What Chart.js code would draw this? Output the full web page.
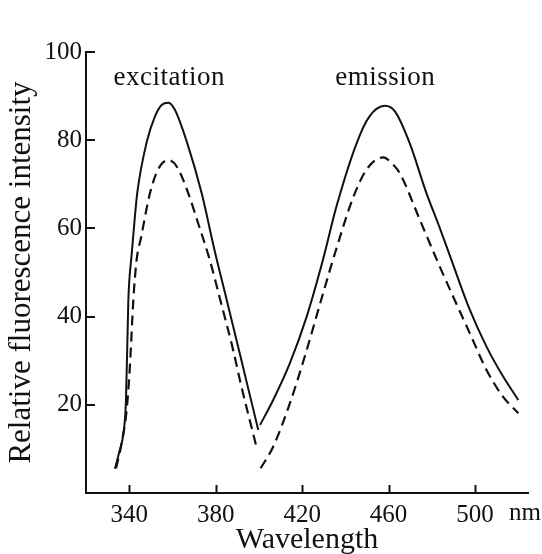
<!DOCTYPE html>
<html>
<head>
<meta charset="utf-8">
<title>Excitation and emission spectra</title>
<script src="https://cdn.jsdelivr.net/npm/chart.js@4.4.0/dist/chart.umd.min.js"></script>
<style>
  body { margin: 0; background: #fff; }
  #wrap { width: 542px; height: 554px; }
</style>
</head>
<body>
<div id="wrap"><canvas id="spectra" width="542" height="554"></canvas></div>
<script>
// Spectra (wavelength in nm, relative intensity)
const excSolidNm  = [333.4, 335.5, 337.3, 338.5, 339.6, 341.1, 342.5, 343.7, 348, 352, 355, 358.1, 361, 366.8, 373.5, 379.5, 385, 391.2, 399.7];
const excSolidVal = [5.5, 9.5, 13.5, 21, 43.8, 54, 62, 68, 79.4, 85.5, 88, 88.5, 87, 79.4, 68, 55, 44, 31.5, 14.3];

const excDashNm  = [333.9, 336.5, 338.8, 340.3, 341.9, 343.4, 345.5, 349.6, 353.5, 358.1, 362, 367.3, 372, 377.3, 382, 388.1, 391.2, 399.2];
const excDashVal = [5.6, 11.3, 18.8, 28.6, 43.8, 52.8, 58, 68, 73.5, 75.5, 74, 68, 61, 52.8, 44, 32.4, 25.6, 9.8];

const emSolidNm  = [400.5, 406.6, 414.3, 422.1, 429.7, 435.9, 445.2, 451, 458.3, 463, 469.8, 477.5, 483, 489.1, 497.6, 505.3, 513, 520];
const emSolidVal = [15.4, 21.1, 29.4, 40, 53, 65, 79.3, 85.3, 87.8, 86.5, 79.3, 68, 61, 52.8, 41.5, 33.2, 26.4, 21.1];

const emDashNm  = [400.8, 406.6, 414.3, 422.1, 429.7, 435.9, 443.6, 450, 457.5, 462, 465.2, 474.5, 483, 489.9, 497.6, 505.3, 513, 520];
const emDashVal = [5.6, 10.5, 20.3, 32.4, 45.3, 55.5, 67, 73.5, 76.1, 74.5, 72.5, 61.9, 52.1, 44.5, 36.2, 27.9, 21.8, 18.1];

const xTicks = [340, 380, 420, 460, 500];
const yTicks = [20, 40, 60, 80, 100];

const peakLabels = ['excitation', 'emission'];
const peakLabelNm = [358.5, 458.5];
const peakLabelVal = 92.5;

const INK = '#111';
const SERIF = '"Liberation Serif", "DejaVu Serif", serif';

function toPoints(xs, ys) {
    return xs.map((x, i) => ({ x: x, y: ys[i] }));
}

function curve(xs, ys, dashed) {
    return {
        data: toPoints(xs, ys),
        borderColor: INK,
        borderWidth: dashed ? 2.2 : 2,
        borderDash: dashed ? [10, 6] : [],
        pointRadius: 0,
        fill: false,
        cubicInterpolationMode: 'monotone'
    };
}

// ticks on this figure point inwards, and there are peak labels and the "nm" unit
const figureMarks = {
    id: 'figureMarks',
    afterDraw(chart) {
        const ctx = chart.ctx;
        const x = chart.scales.x;
        const y = chart.scales.y;
        ctx.save();
        ctx.strokeStyle = INK;
        ctx.lineWidth = 2;
        ctx.beginPath();
        x.ticks.forEach(t => {
            const px = Math.round(x.getPixelForValue(t.value)) + 0.5;
            ctx.moveTo(px, x.top);
            ctx.lineTo(px, x.top - 8);
        });
        y.ticks.forEach(t => {
            const py = Math.round(y.getPixelForValue(t.value));
            ctx.moveTo(y.right, py);
            ctx.lineTo(y.right + 9, py);
        });
        ctx.stroke();

        ctx.fillStyle = INK;
        ctx.font = '27px ' + SERIF;
        ctx.letterSpacing = '0.5px';
        ctx.textAlign = 'center';
        ctx.textBaseline = 'alphabetic';
        peakLabels.forEach((txt, i) => {
            ctx.fillText(txt, x.getPixelForValue(peakLabelNm[i]), y.getPixelForValue(peakLabelVal));
        });

        ctx.letterSpacing = '0px';
        ctx.font = '25px ' + SERIF;
        ctx.textAlign = 'left';
        ctx.fillText('nm', x.getPixelForValue(500) + 34, x.top + 27);
        ctx.restore();
    }
};

new Chart(document.getElementById('spectra'), {
    type: 'line',
    data: {
        datasets: [
            curve(excSolidNm, excSolidVal, false),
            curve(excDashNm, excDashVal, true),
            curve(emSolidNm, emSolidVal, false),
            curve(emDashNm, emDashVal, true)
        ]
    },
    options: {
        responsive: false,
        animation: false,
        layout: { padding: { top: 52, right: 14, left: 0, bottom: 0 } },
        plugins: {
            legend: { display: false },
            tooltip: { enabled: false }
        },
        scales: {
            x: {
                type: 'linear',
                min: 320,
                max: 524.5,
                afterBuildTicks: scale => { scale.ticks = xTicks.map(v => ({ value: v })); },
                afterFit: scale => { scale.height = 61; },
                grid: { display: false, drawTicks: false },
                border: { display: true, color: INK, width: 2 },
                ticks: { color: INK, padding: 7, font: { family: SERIF, size: 25 }, maxRotation: 0 },
                title: {
                    display: true,
                    text: 'Wavelength',
                    color: INK,
                    font: { family: SERIF, size: 30 },
                    padding: { top: 0, bottom: -4 }
                }
            },
            y: {
                min: 0,
                max: 100,
                afterBuildTicks: scale => { scale.ticks = yTicks.map(v => ({ value: v })); },
                afterFit: scale => { scale.width = 86; },
                grid: { display: false, drawTicks: false },
                border: { display: true, color: INK, width: 2 },
                ticks: { color: INK, padding: 4, font: { family: SERIF, size: 25 } },
                title: {
                    display: true,
                    text: 'Relative fluorescence intensity',
                    color: INK,
                    font: { family: SERIF, size: 31 },
                    padding: { top: 3, bottom: 0 }
                }
            }
        }
    },
    plugins: [figureMarks]
});
</script>
</body>
</html>
